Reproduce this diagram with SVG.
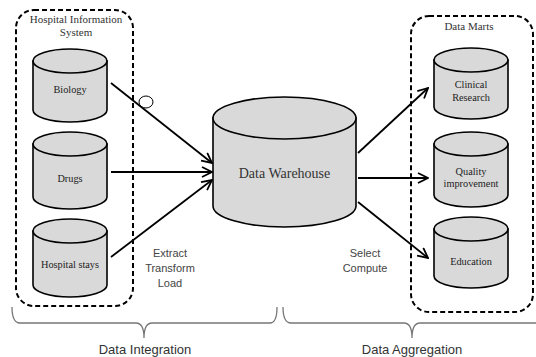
<svg xmlns="http://www.w3.org/2000/svg" width="536" height="357" viewBox="0 0 536 357">
<defs>
<style>
.cyl{fill:#d9d9d9;stroke:#000;stroke-width:1.6}
.box{fill:none;stroke:#000;stroke-width:2;stroke-dasharray:5,3}
.lbl{font-family:"Liberation Serif",serif;font-size:10.3px;fill:#222;text-anchor:middle}
.ttl{font-family:"Liberation Serif",serif;font-size:11px;fill:#333;text-anchor:middle}
.big{font-family:"Liberation Serif",serif;font-size:14px;fill:#333;text-anchor:middle}
.san{font-family:"Liberation Sans",sans-serif;font-size:11px;fill:#444;text-anchor:middle}
.bot{font-family:"Liberation Sans",sans-serif;font-size:13px;fill:#333;text-anchor:middle}
.con{fill:none;stroke:#000;stroke-width:1.8;marker-end:url(#ah)}
.brace{fill:none;stroke:#777;stroke-width:1.3}
</style>
<marker id="ah" viewBox="0 0 12 12" refX="11" refY="6" markerWidth="12" markerHeight="12" markerUnits="userSpaceOnUse" orient="auto">
<path d="M1,1 L11,6 L1,11" fill="none" stroke="#000" stroke-width="1.8"/>
</marker>
</defs>
<rect class="box" x="16" y="10" width="117" height="296" rx="18"/>
<text class="ttl" x="76" y="23">Hospital Information</text>
<text class="ttl" x="76" y="36">System</text>
<rect class="box" x="411" y="16" width="122" height="296" rx="18"/>
<text class="ttl" x="469" y="30">Data Marts</text>
<g id="biology">
<path class="cyl" d="M33,61 L33,110 A37,12 0 0 0 107,110 L107,61 Z"/>
<ellipse class="cyl" cx="70" cy="61" rx="37" ry="12"/>
<text class="lbl" x="70" y="93">Biology</text>
</g>
<g id="drugs">
<path class="cyl" d="M33,144 L33,197 A37,12 0 0 0 107,197 L107,144 Z"/>
<ellipse class="cyl" cx="70" cy="144" rx="37" ry="12"/>
<text class="lbl" x="70" y="182">Drugs</text>
</g>
<g id="hospital-stays">
<path class="cyl" d="M33,231 L33,285 A37,12 0 0 0 107,285 L107,231 Z"/>
<ellipse class="cyl" cx="70" cy="231" rx="37" ry="12"/>
<text class="lbl" x="70" y="268">Hospital stays</text>
</g>
<g id="data-warehouse">
<path class="cyl" d="M213,118 L213,206 A71.5,21 0 0 0 356,206 L356,118 Z"/>
<ellipse class="cyl" cx="284.5" cy="118" rx="71.5" ry="21"/>
<text class="big" x="284.5" y="178">Data Warehouse</text>
</g>
<g id="clinical-research">
<path class="cyl" d="M434,60 L434,107 A37,12 0 0 0 508,107 L508,60 Z"/>
<ellipse class="cyl" cx="471" cy="60" rx="37" ry="12"/>
<text class="lbl" x="471" y="88">Clinical</text>
<text class="lbl" x="471" y="101">Research</text>
</g>
<g id="quality-improvement">
<path class="cyl" d="M434,144 L434,195 A37,12 0 0 0 508,195 L508,144 Z"/>
<ellipse class="cyl" cx="471" cy="144" rx="37" ry="12"/>
<text class="lbl" x="471" y="175">Quality</text>
<text class="lbl" x="471" y="187">improvement</text>
</g>
<g id="education">
<path class="cyl" d="M434,229 L434,276 A37,12 0 0 0 508,276 L508,229 Z"/>
<ellipse class="cyl" cx="471" cy="229" rx="37" ry="12"/>
<text class="lbl" x="471" y="265">Education</text>
</g>
<g id="connectors">
<line class="con" x1="111" y1="83" x2="212" y2="163"/>
<line class="con" x1="111" y1="172" x2="212" y2="172"/>
<line class="con" x1="111" y1="257" x2="212" y2="180"/>
<line class="con" x1="358" y1="153" x2="428" y2="88"/>
<line class="con" x1="358" y1="178" x2="428" y2="178"/>
<line class="con" x1="358" y1="202" x2="428" y2="258"/>
<ellipse cx="146" cy="102" rx="7" ry="6" fill="#fff" stroke="#000" stroke-width="1"/>
</g>
<text class="san" x="170" y="257">Extract</text>
<text class="san" x="170" y="272">Transform</text>
<text class="san" x="170" y="287">Load</text>
<text class="san" x="365" y="257">Select</text>
<text class="san" x="365" y="272">Compute</text>
<path class="brace" d="M12,307 Q12,323 20,323 L136,323 Q144,323 144,338 Q144,323 152,323 L270,323 Q277,323 277,307"/>
<path class="brace" d="M283,307 Q283,323 291,323 L404,323 Q412,323 412,338 Q412,323 420,323 L536,323"/>
<text class="bot" x="145" y="354">Data Integration</text>
<text class="bot" x="412" y="354">Data Aggregation</text>
</svg>
